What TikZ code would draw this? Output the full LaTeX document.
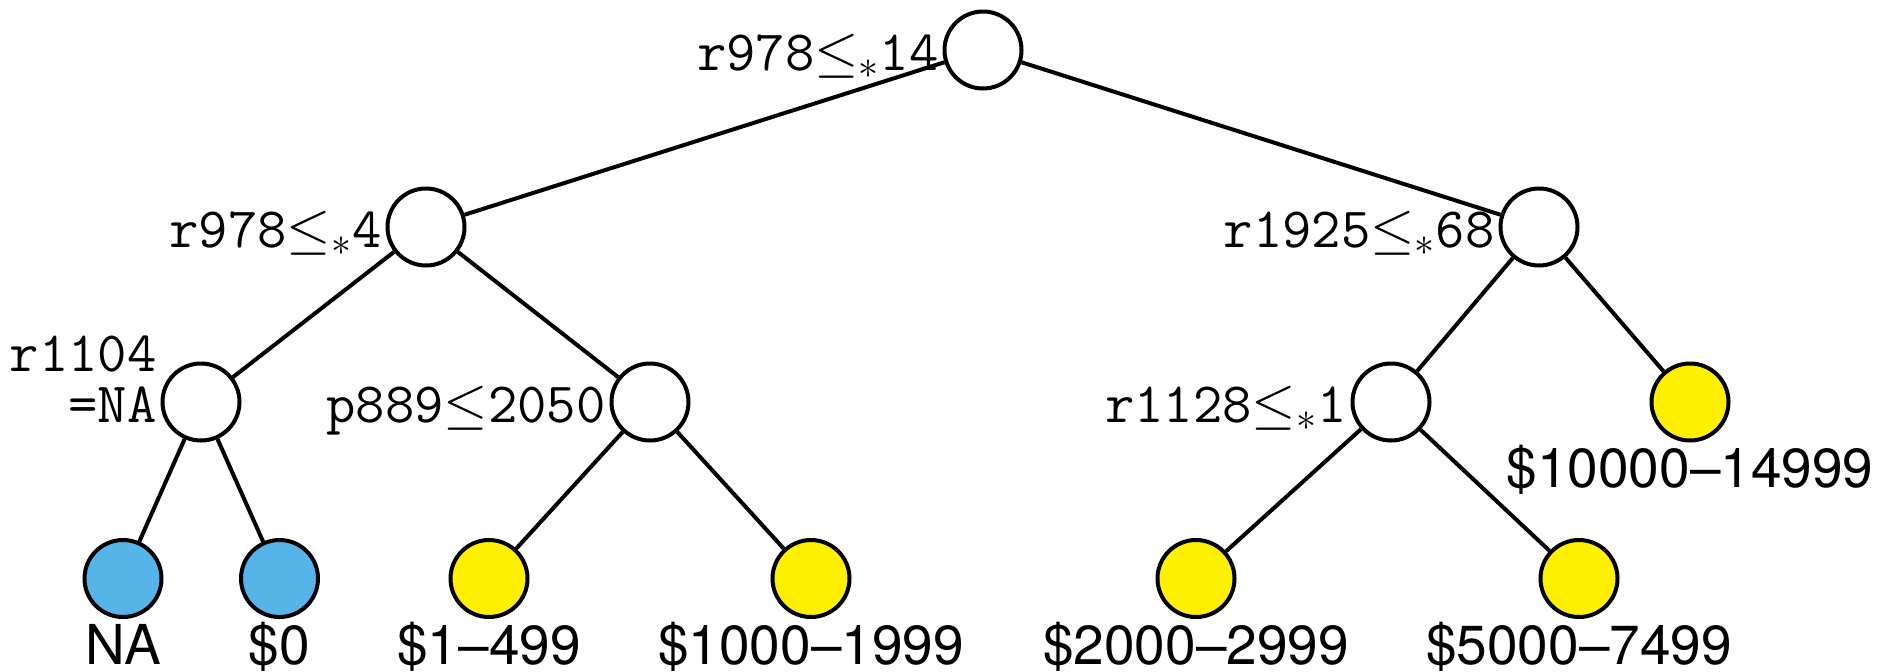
\RequirePackage{fix-cm}
\documentclass[tikz,border=0pt]{standalone}
\usepackage{fontspec}
\setsansfont{TeX Gyre Heros}
\definecolor{leafblue}{HTML}{56B4E9}
\definecolor{leafyellow}{HTML}{FFEF00}
\tikzset{
  splitnode/.style={circle, draw=black, line width=2pt, fill=white,
    minimum size=38.5pt, inner sep=0pt},
  bluenode/.style={splitnode, fill=leafblue},
  yellownode/.style={splitnode, fill=leafyellow},
  edge/.style={line width=2pt},
  condlabel/.style={anchor=base east, yshift=-10pt, inner sep=1.8pt,
    font=\fontsize{28.5}{24.5}\selectfont\ttfamily},
  leaflabel/.style={anchor=base, yshift=-22.5pt, inner sep=0pt,
    font=\fontsize{27.5}{33}\selectfont\sffamily},
}
\newcommand{\lesub}{$\le_*$}
\begin{document}
\begin{tikzpicture}[x=0.5pt, y=-0.5pt]
  \useasboundingbox (0,0) rectangle (1879,671);

  % internal split nodes
  \node[splitnode, label={[condlabel]left:r978\lesub14}] (root) at (983,50) {};
  \node[splitnode, label={[condlabel]left:r978\lesub4}] (nl) at (426,227) {};
  \node[splitnode, label={[condlabel]left:r1925\lesub68}] (nr) at (1539,227) {};
  \node[splitnode, label={[condlabel]left:{\begin{tabular}[b]{@{}r@{}}r1104\\=NA\end{tabular}}}] (nll) at (201,402) {};
  \node[splitnode, label={[condlabel]left:p889$\le$2050}] (nlr) at (650,402) {};
  \node[splitnode, label={[condlabel]left:r1128\lesub1}] (nrl) at (1391,402) {};

  % leaves
  \node[yellownode, label={[leaflabel]below:\$10000--14999}] (nrr) at (1690,402) {};
  \node[bluenode, label={[leaflabel]below:NA}] (a) at (123,578.5) {};
  \node[bluenode, label={[leaflabel]below:\$0}] (b) at (279.5,578.5) {};
  \node[yellownode, label={[leaflabel]below:\$1--499}] (c) at (489,578.5) {};
  \node[yellownode, label={[leaflabel]below:\$1000--1999}] (d) at (811,578.5) {};
  \node[yellownode, label={[leaflabel]below:\$2000--2999}] (e) at (1196,578.5) {};
  \node[yellownode, label={[leaflabel]below:\$5000--7499}] (f) at (1579,578.5) {};

  % branches
  \draw[edge] (root) -- (nl);
  \draw[edge] (root) -- (nr);
  \draw[edge] (nl) -- (nll);
  \draw[edge] (nl) -- (nlr);
  \draw[edge] (nr) -- (nrl);
  \draw[edge] (nr) -- (nrr);
  \draw[edge] (nll) -- (a);
  \draw[edge] (nll) -- (b);
  \draw[edge] (nlr) -- (c);
  \draw[edge] (nlr) -- (d);
  \draw[edge] (nrl) -- (e);
  \draw[edge] (nrl) -- (f);
\end{tikzpicture}
\end{document}
